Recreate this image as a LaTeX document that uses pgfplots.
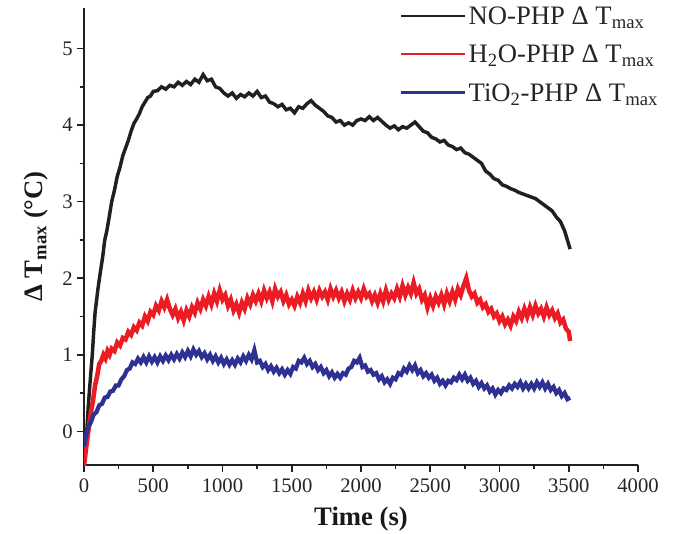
\documentclass[border=0pt]{standalone}
\usepackage{pgfplots}
\pgfplotsset{compat=1.18}
\usepackage{fontspec}
\setmainfont{Liberation Serif}
\definecolor{cblack}{RGB}{35,31,32}
\definecolor{cred}{RGB}{237,28,36}
\definecolor{cblue}{RGB}{46,49,146}
\begin{document}
\begin{tikzpicture}
\useasboundingbox (0,0) rectangle (509.25pt,399.75pt);
\begin{axis}[
  at={(63pt,51pt)}, anchor=south west,
  scale only axis, width=415.5pt, height=342.75pt,
  xmin=0, xmax=4000, ymin=-0.44, ymax=5.53,
  axis lines=left, axis line style={-, line width=1.5pt, color=cblack},
  xtick={0,500,...,4000}, ytick={0,1,2,3,4,5},
  minor x tick num=1, minor y tick num=1,
  tick align=outside,
  major tick length=5pt, minor tick length=3pt,
  every tick/.style={line width=1.2pt, color=cblack},
  tick label style={font=\fontsize{15.5}{17}\selectfont, color=black!85},
  xticklabel style={yshift=-2pt},
  /pgf/number format/assume math mode=true,
  /pgf/number format/1000 sep={},
  xlabel={\textbf{Time (s)}},
  ylabel={\textbf{Δ T\textsubscript{max} (°C)}},
  label style={font=\fontsize{20}{22}\selectfont, color=black!90},
  xlabel style={yshift=-4pt},
  ylabel style={yshift=4pt},
  legend cell align=left,
  legend style={draw=none, fill=none, at={(0.562,1.015)}, anchor=north west,
    font=\fontsize{20}{22}\selectfont, row sep=10pt, color=black!85},
  legend image code/.code={\draw[#1, line width=1.8pt] (0,0) -- (48pt,0);},
]
\addplot[cblack, line width=2.6pt] coordinates {
(0,-0.42)(10,-0.2)(20,0.0)(30,0.3)(40,0.55)(50,0.78)(60,1.0)(70,1.3)(80,1.55)(90,1.7)
(100,1.85)(110,1.98)(120,2.1)(135,2.28)(150,2.5)(165,2.62)(180,2.78)(200,3.0)(220,3.15)(240,3.33)
(260,3.45)(280,3.6)(300,3.7)(320,3.8)(340,3.92)(360,4.02)(380,4.08)(400,4.15)(420,4.24)(440,4.3)
(460,4.36)(480,4.38)(500,4.44)(530,4.45)(560,4.5)(590,4.47)(620,4.52)(650,4.5)(680,4.56)(710,4.52)
(740,4.57)(770,4.53)(800,4.6)(830,4.56)(860,4.66)(890,4.58)(920,4.6)(950,4.5)(980,4.48)(1010,4.42)
(1040,4.38)(1070,4.42)(1100,4.35)(1130,4.4)(1160,4.37)(1190,4.42)(1220,4.38)(1250,4.44)(1280,4.36)(1310,4.38)
(1340,4.3)(1370,4.28)(1400,4.24)(1430,4.27)(1460,4.2)(1490,4.22)(1520,4.16)(1550,4.24)(1580,4.22)(1610,4.28)
(1640,4.32)(1670,4.26)(1700,4.22)(1730,4.18)(1760,4.12)(1790,4.1)(1820,4.04)(1850,4.06)(1880,4.0)(1910,4.03)
(1940,4.0)(1970,4.06)(2000,4.08)(2030,4.06)(2060,4.11)(2090,4.06)(2120,4.1)(2150,4.05)(2180,4.0)(2210,3.96)
(2240,3.99)(2270,3.94)(2300,3.98)(2330,3.96)(2360,4.0)(2390,4.04)(2420,3.98)(2450,3.92)(2480,3.9)(2510,3.84)
(2540,3.82)(2570,3.78)(2600,3.8)(2630,3.74)(2660,3.72)(2690,3.68)(2720,3.7)(2750,3.64)(2780,3.62)(2810,3.58)
(2840,3.54)(2870,3.5)(2900,3.4)(2930,3.36)(2960,3.3)(2990,3.28)(3020,3.22)(3050,3.2)(3080,3.17)(3110,3.15)
(3140,3.12)(3170,3.1)(3200,3.08)(3230,3.06)(3260,3.04)(3290,3.0)(3320,2.96)(3350,2.92)(3380,2.88)(3410,2.8)
(3440,2.74)(3470,2.62)(3490,2.5)(3510,2.38)
};
\addlegendentry{NO-PHP Δ T\textsubscript{max}}
\addplot[cred, line width=3.4pt] coordinates {
(0,-0.45)(10,-0.3)(20,-0.15)(35,0.05)(50,0.25)(65,0.4)(80,0.6)(95,0.72)(110,0.88)(125,0.92)
(140,1.0)(155,0.95)(170,1.05)(185,1.0)(200,1.08)(220,1.05)(240,1.16)(260,1.12)(280,1.22)(300,1.2)
(320,1.3)(340,1.26)(360,1.36)(380,1.32)(400,1.42)(420,1.38)(440,1.5)(460,1.44)(480,1.56)(500,1.52)
(520,1.64)(540,1.58)(560,1.7)(580,1.62)(600,1.72)(620,1.6)(640,1.52)(660,1.6)(680,1.48)(700,1.56)
(720,1.45)(740,1.58)(760,1.5)(780,1.62)(800,1.55)(820,1.68)(840,1.6)(860,1.72)(880,1.64)(900,1.76)
(920,1.66)(940,1.8)(960,1.7)(980,1.84)(1000,1.72)(1020,1.78)(1040,1.64)(1060,1.72)(1080,1.58)(1100,1.66)
(1120,1.55)(1140,1.68)(1160,1.6)(1180,1.74)(1200,1.66)(1220,1.78)(1240,1.7)(1260,1.8)(1280,1.7)(1300,1.84)
(1320,1.74)(1340,1.82)(1360,1.7)(1380,1.86)(1400,1.76)(1420,1.82)(1440,1.7)(1460,1.78)(1480,1.66)(1500,1.72)
(1520,1.64)(1540,1.76)(1560,1.68)(1580,1.8)(1600,1.7)(1620,1.84)(1640,1.74)(1660,1.82)(1680,1.72)(1700,1.84)
(1720,1.76)(1740,1.82)(1760,1.72)(1780,1.86)(1800,1.76)(1820,1.84)(1840,1.74)(1860,1.82)(1880,1.7)(1900,1.8)
(1920,1.72)(1940,1.84)(1960,1.74)(1980,1.82)(2000,1.74)(2020,1.86)(2040,1.76)(2060,1.8)(2080,1.7)(2100,1.78)
(2120,1.68)(2140,1.8)(2160,1.7)(2180,1.84)(2200,1.72)(2220,1.8)(2240,1.74)(2260,1.86)(2280,1.76)(2300,1.9)
(2320,1.78)(2340,1.88)(2360,1.8)(2380,1.94)(2400,1.8)(2420,1.86)(2440,1.72)(2460,1.78)(2480,1.62)(2500,1.74)
(2520,1.64)(2540,1.76)(2560,1.68)(2580,1.78)(2600,1.66)(2620,1.8)(2640,1.7)(2660,1.82)(2680,1.72)(2700,1.86)
(2720,1.78)(2740,1.9)(2760,2.0)(2780,1.84)(2800,1.76)(2820,1.8)(2840,1.68)(2860,1.72)(2880,1.62)(2900,1.66)
(2920,1.56)(2940,1.6)(2960,1.5)(2980,1.54)(3000,1.44)(3020,1.5)(3040,1.4)(3060,1.46)(3080,1.38)(3100,1.5)
(3120,1.44)(3140,1.56)(3160,1.48)(3180,1.6)(3200,1.5)(3220,1.62)(3240,1.52)(3260,1.64)(3280,1.54)(3300,1.6)
(3320,1.5)(3340,1.62)(3360,1.52)(3380,1.58)(3400,1.48)(3420,1.54)(3440,1.42)(3460,1.46)(3480,1.34)(3500,1.3)
(3510,1.18)
};
\addlegendentry{H\textsubscript{2}O-PHP Δ T\textsubscript{max}}
\addplot[cblue, line width=3.2pt] coordinates {
(0,-0.2)(15,-0.05)(30,0.05)(50,0.12)(70,0.22)(90,0.25)(110,0.34)(130,0.36)(150,0.44)(170,0.45)
(190,0.52)(210,0.53)(230,0.6)(250,0.6)(270,0.68)(290,0.72)(310,0.8)(330,0.82)(350,0.9)(370,0.88)
(390,0.95)(410,0.9)(430,0.97)(450,0.9)(470,0.98)(490,0.91)(510,0.97)(530,0.9)(550,0.98)(570,0.92)
(590,0.99)(610,0.93)(630,1.0)(650,0.94)(670,1.01)(690,0.95)(710,1.03)(730,0.97)(750,1.05)(770,0.98)
(790,1.07)(810,1.0)(830,1.05)(850,0.97)(870,1.02)(890,0.94)(910,1.0)(930,0.92)(950,0.98)(970,0.9)
(990,0.96)(1010,0.88)(1030,0.94)(1050,0.87)(1070,0.93)(1090,0.87)(1110,0.95)(1130,0.9)(1150,0.98)(1170,0.92)
(1190,1.0)(1210,0.94)(1230,1.06)(1250,0.9)(1270,0.92)(1290,0.84)(1310,0.88)(1330,0.8)(1350,0.85)(1370,0.78)
(1390,0.83)(1410,0.76)(1430,0.81)(1450,0.74)(1470,0.8)(1490,0.75)(1510,0.84)(1530,0.82)(1550,0.92)(1570,0.9)
(1590,0.96)(1610,0.88)(1630,0.92)(1650,0.84)(1670,0.88)(1690,0.8)(1710,0.84)(1730,0.76)(1750,0.8)(1770,0.72)
(1790,0.77)(1810,0.7)(1830,0.75)(1850,0.7)(1870,0.76)(1890,0.74)(1910,0.82)(1930,0.84)(1950,0.92)(1970,0.9)
(1990,0.96)(2010,0.84)(2030,0.86)(2050,0.78)(2070,0.8)(2090,0.74)(2110,0.76)(2130,0.68)(2150,0.72)(2170,0.64)
(2190,0.68)(2210,0.62)(2230,0.7)(2250,0.68)(2270,0.76)(2290,0.74)(2310,0.82)(2330,0.78)(2350,0.86)(2370,0.8)
(2390,0.86)(2410,0.76)(2430,0.8)(2450,0.72)(2470,0.76)(2490,0.7)(2510,0.74)(2530,0.66)(2550,0.7)(2570,0.62)
(2590,0.66)(2610,0.6)(2630,0.66)(2650,0.64)(2670,0.7)(2690,0.67)(2710,0.74)(2730,0.68)(2750,0.74)(2770,0.66)
(2790,0.7)(2810,0.62)(2830,0.66)(2850,0.58)(2870,0.63)(2890,0.56)(2910,0.6)(2930,0.52)(2950,0.56)(2970,0.48)
(2990,0.54)(3010,0.5)(3030,0.56)(3050,0.54)(3070,0.6)(3090,0.56)(3110,0.62)(3130,0.58)(3150,0.64)(3170,0.56)
(3190,0.62)(3210,0.56)(3230,0.62)(3250,0.56)(3270,0.64)(3290,0.58)(3310,0.64)(3330,0.56)(3350,0.62)(3370,0.54)
(3390,0.58)(3410,0.5)(3430,0.54)(3450,0.46)(3470,0.5)(3490,0.42)(3510,0.44)
};
\addlegendentry{TiO\textsubscript{2}-PHP Δ T\textsubscript{max}}
\end{axis}
\end{tikzpicture}
\end{document}
